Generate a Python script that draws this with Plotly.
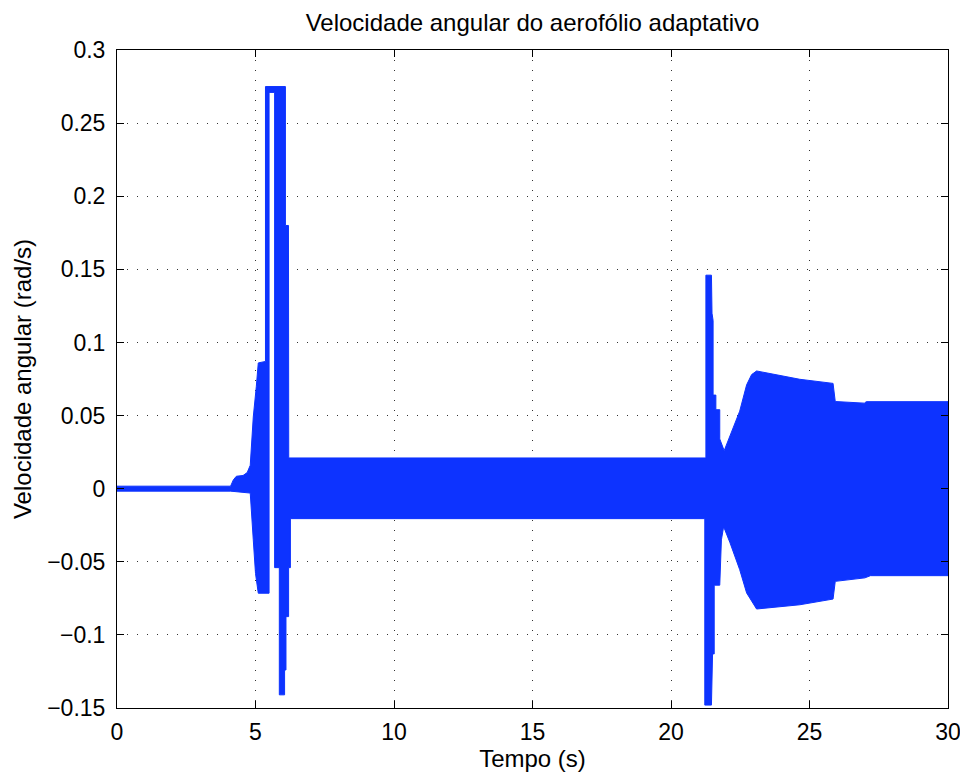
import plotly.graph_objects as go

# Envelope of the (densely oscillating) angular velocity signal
upper_t = [0.00, 4.10, 4.20, 4.31, 4.55, 4.70, 4.81, 4.92, 5.03, 5.10, 5.36, 5.36, 6.08, 6.08,
           6.19, 6.20, 21.26, 21.26, 21.46, 21.48, 21.52, 21.52, 21.62, 21.62, 21.76, 21.76,
           21.92, 22.48, 22.73, 22.91, 23.09, 24.65, 25.85, 25.93, 26.98, 27.05, 30.00]
upper_v = [0.0017, 0.0017, 0.006, 0.0085, 0.009, 0.011, 0.016, 0.049, 0.070, 0.086, 0.087, 0.275,
           0.275, 0.18, 0.18, 0.021, 0.021, 0.146, 0.146, 0.12, 0.115, 0.064, 0.064, 0.054,
           0.054, 0.034, 0.026, 0.053, 0.071, 0.078, 0.0805, 0.0748, 0.072, 0.0596, 0.0585,
           0.0595, 0.0595]

lower_t = [0.00, 4.10, 4.81, 4.92, 5.00, 5.10, 5.49, 5.49, 5.69, 5.69, 5.86, 5.86, 6.05, 6.05,
           6.10, 6.10, 6.195, 6.195, 6.26, 6.26, 21.22, 21.22, 21.46, 21.49, 21.50, 21.56, 21.56,
           21.76, 21.77, 21.82, 21.90, 22.13, 22.48, 22.73, 23.09, 24.65, 25.85, 25.93, 27.00,
           27.20, 30.00]
lower_v = [-0.0017, -0.0017, -0.003, -0.035, -0.058, -0.0715, -0.0715, 0.271, 0.271, -0.054,
           -0.054, -0.141, -0.141, -0.124, -0.124, -0.0875, -0.0875, -0.054, -0.054, -0.0205,
           -0.0205, -0.148, -0.148, -0.140, -0.113, -0.113, -0.066, -0.066, -0.057, -0.035,
           -0.026, -0.037, -0.0554, -0.0713, -0.0823, -0.0794, -0.0755, -0.0634, -0.061,
           -0.0595, -0.0595]

x_tick_vals = [0, 5, 10, 15, 20, 25, 30]
x_tick_labels = ["0", "5", "10", "15", "20", "25", "30"]
y_tick_vals = [-0.15, -0.1, -0.05, 0, 0.05, 0.1, 0.15, 0.2, 0.25, 0.3]
y_tick_labels = ["\u22120.15", "\u22120.1", "\u22120.05", "0", "0.05", "0.1", "0.15", "0.2",
                 "0.25", "0.3"]

BLUE = "#0d33ff"
FONT = "Liberation Sans, Arial, Helvetica, sans-serif"

band_x = upper_t + lower_t[::-1]
band_y = upper_v + lower_v[::-1]

fig = go.Figure()
fig.add_trace(go.Scatter(x=band_x, y=band_y, mode="lines", fill="toself",
                         fillcolor=BLUE, line=dict(color=BLUE, width=1),
                         hoverinfo="skip", showlegend=False))

axis_common = dict(
    showline=True, linecolor="black", linewidth=1, mirror="ticks",
    ticks="inside", ticklen=7, tickwidth=1, tickcolor="black",
    showgrid=True, gridcolor="#333333", gridwidth=1, griddash="1px,9px",
    zeroline=False, tickfont=dict(family=FONT, size=23, color="black"),
)

fig.update_xaxes(range=[0, 30], tickvals=x_tick_vals, ticktext=x_tick_labels,
                 ticklabelstandoff=3,
                 title=dict(text="Tempo (s)", font=dict(family=FONT, size=24, color="black"),
                            standoff=3),
                 **axis_common)
fig.update_yaxes(range=[-0.15, 0.3], tickvals=y_tick_vals, ticktext=y_tick_labels,
                 ticklabelstandoff=6,
                 title=dict(text="Velocidade angular (rad/s)",
                            font=dict(family=FONT, size=24, color="black"), standoff=8),
                 **axis_common)

# the page body has an 8 px default margin, so the figure is 8 px smaller and margins shifted
fig.update_layout(
    width=960, height=771,
    margin=dict(l=109, r=20, t=42, b=71, autoexpand=False),
    paper_bgcolor="white", plot_bgcolor="white",
    title=dict(text="Velocidade angular do aerofólio adaptativo",
               font=dict(family=FONT, size=24, color="black"),
               x=0.5, xref="paper", xanchor="center",
               y=1 - 15 / 771, yref="container", yanchor="middle"),
)

fig.write_html("out.html")
